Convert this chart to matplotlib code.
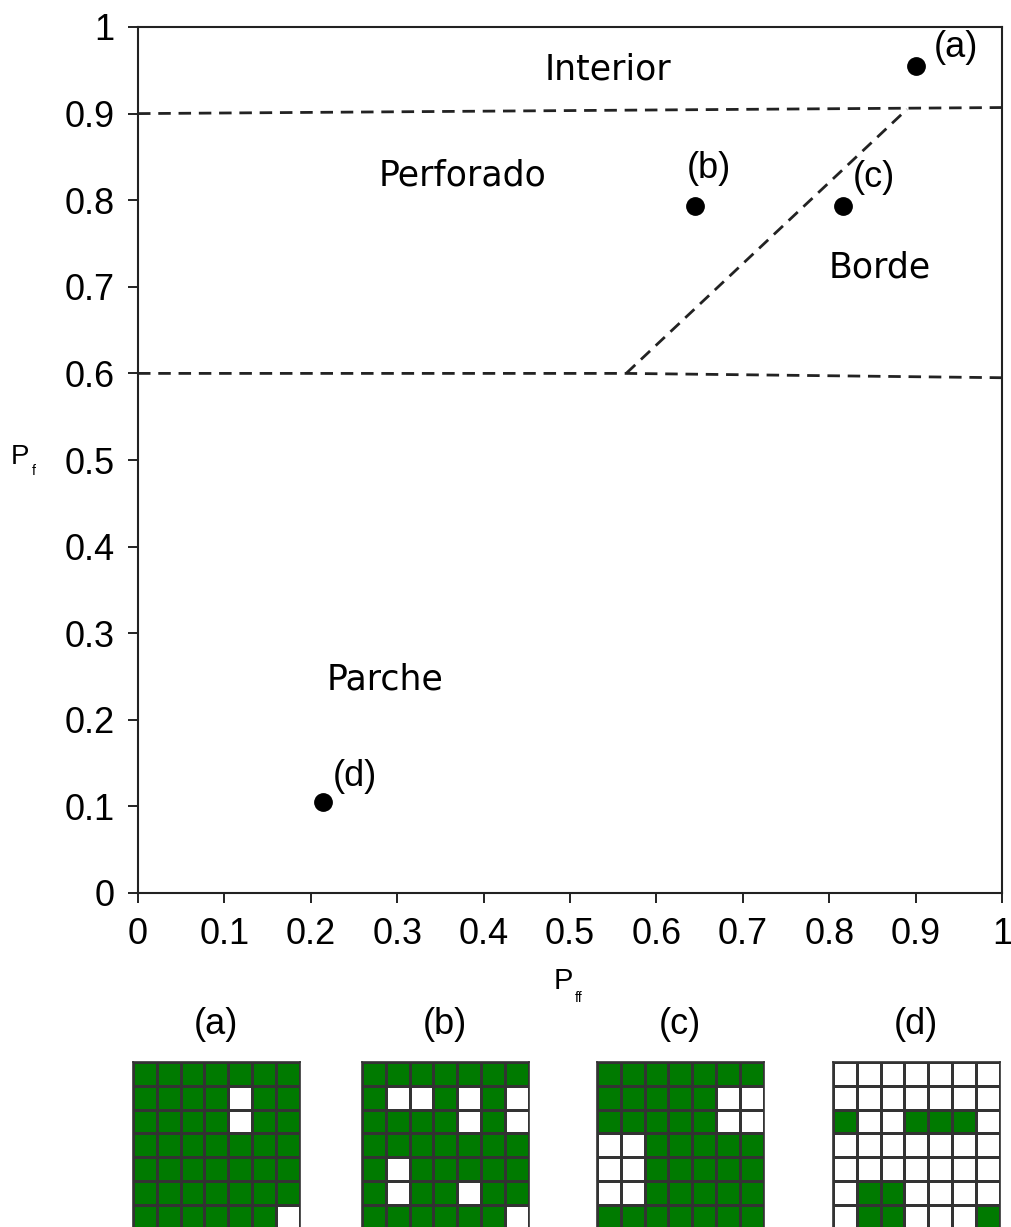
import numpy as np
import matplotlib.pyplot as plt
from matplotlib.colors import ListedColormap

# Points in the (Pff, Pf) plane
point_names = ["(a)", "(b)", "(c)", "(d)"]
pff_values = [0.90, 0.645, 0.816, 0.214]
pf_values = [0.955, 0.793, 0.793, 0.105]

# Boundary lines between the classes
upper_x = [0.0, 1.0]
upper_y = [0.90, 0.907]
lower_x = [0.0, 0.565, 1.0]
lower_y = [0.60, 0.60, 0.595]
diag_x = [0.565, 0.89]
diag_y = [0.60, 0.905]

# Class names and where they sit
class_names = ["Interior", "Perforado", "Borde", "Parche"]
class_x = [0.544, 0.376, 0.859, 0.286]
class_y = [0.951, 0.829, 0.722, 0.246]

ticks = [0, 0.1, 0.2, 0.3, 0.4, 0.5, 0.6, 0.7, 0.8, 0.9, 1]
tick_labels = ["0", "0.1", "0.2", "0.3", "0.4", "0.5", "0.6", "0.7", "0.8", "0.9", "1"]

# 7x7 example windows, 1 = forest (green), 0 = non forest
grid_a = [
    "1111111",
    "1111011",
    "1111011",
    "1111111",
    "1111111",
    "1111111",
    "1111110",
]
grid_b = [
    "1111111",
    "1001010",
    "1111010",
    "1111111",
    "1011111",
    "1011011",
    "1111110",
]
grid_c = [
    "1111111",
    "1111100",
    "1111100",
    "0011111",
    "0011111",
    "0011111",
    "1111111",
]
grid_d = [
    "0000000",
    "0000000",
    "1001110",
    "0000000",
    "0000000",
    "0110000",
    "0110001",
]
grids = [grid_a, grid_b, grid_c, grid_d]

W, H = 1012, 1227
tick_font = "Liberation Sans"
label_font = "DejaVu Sans"


def px(x, y):
    # pixel position -> figure fraction
    return x / W, 1 - y / H


fig = plt.figure(figsize=(W / 100, H / 100), dpi=100)

# main axes: x 138..1002, y 27..893 pixels
ax = fig.add_axes([138 / W, 1 - 893 / H, 864 / W, 866 / H])

dash = (0, (4.5, 2.8))
for lx, ly in [(upper_x, upper_y), (lower_x, lower_y), (diag_x, diag_y)]:
    ax.plot(lx, ly, color="#222222", lw=2.0, linestyle=dash)

ax.plot(pff_values, pf_values, "o", color="black", markersize=12.5)

# labels of the points (left edge, vertical centre)
point_label_x = [0.921, 0.635, 0.827, 0.225]
point_label_y = [0.976, 0.837, 0.826, 0.135]
for name, xv, yv in zip(point_names, point_label_x, point_label_y):
    ax.text(xv, yv, name, fontsize=26, family=tick_font,
            ha="left", va="center")

for name, xv, yv in zip(class_names, class_x, class_y):
    ax.text(xv, yv, name, fontsize=25, family=label_font,
            ha="center", va="center")

ax.set_xlim(0, 1)
ax.set_ylim(0, 1)
ax.set_xticks(ticks)
ax.set_xticklabels(tick_labels)
ax.set_yticks(ticks)
ax.set_yticklabels(tick_labels)
ax.tick_params(axis="both", direction="out", length=7, width=1.4,
               labelsize=26, color="#222222")
ax.tick_params(axis="x", pad=10)
ax.tick_params(axis="y", pad=10)
for lab in ax.get_xticklabels() + ax.get_yticklabels():
    lab.set_family(tick_font)
for sp in ax.spines.values():
    sp.set_linewidth(1.5)
    sp.set_color("#222222")

# axis labels P_f and P_ff
fig.text(*px(11, 457), "P", fontsize=20, family=tick_font, ha="left", va="center")
fig.text(*px(32, 471), "f", fontsize=10, family=tick_font, ha="left", va="center")
fig.text(*px(554, 981), "P", fontsize=21, family=tick_font, ha="left", va="center")
fig.text(*px(575, 998), "ff", fontsize=10, family=tick_font, ha="left", va="center")

# the four example windows
cmap = ListedColormap(["white", "#007a00"])
grid_left = [133, 362, 597, 833]
cell = 23.8
for name, g, left in zip(point_names, grids, grid_left):
    data = np.array([[int(c) for c in row] for row in g])
    gax = fig.add_axes([left / W, 1 - (1062 + 7 * cell) / H,
                        7 * cell / W, 7 * cell / H])
    gax.pcolormesh(data, cmap=cmap, vmin=0, vmax=1,
                   edgecolors="#333333", linewidth=1.0)
    gax.set_xlim(0, 7)
    gax.set_ylim(7, 0)
    gax.set_xticks([])
    gax.set_yticks([])
    for sp in gax.spines.values():
        sp.set_linewidth(1.2)
        sp.set_color("#333333")
    fig.text(*px(left + 3.5 * cell, 1025), name, fontsize=26,
             family=tick_font, ha="center", va="center")

plt.savefig("out.png", dpi=100)
